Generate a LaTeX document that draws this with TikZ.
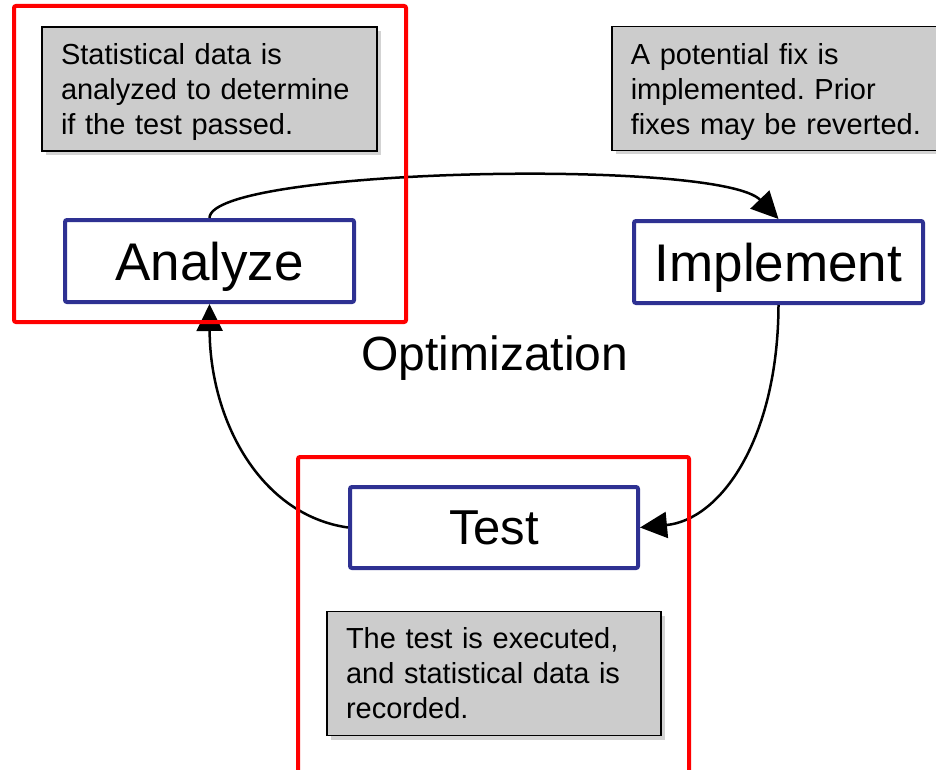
\documentclass[tikz,border=0pt]{standalone}
\usepackage{fontspec}
\setmainfont{Liberation Sans}
\usetikzlibrary{arrows.meta,shadows}
\definecolor{boxblue}{RGB}{46,49,146}
\definecolor{notegray}{RGB}{204,204,204}
\newcommand{\nodepth}[1]{\raisebox{0pt}[\height][0pt]{#1}}
\frenchspacing
\begin{document}
\begin{tikzpicture}[x=1pt,y=-1pt,
  stage/.style={draw=boxblue, line width=4pt, rounded corners=2pt, fill=white, minimum width=289pt, minimum height=82pt, inner sep=0pt, text depth=0pt},
  note/.style={draw=black, line width=1.5pt, fill=notegray, align=left, inner xsep=19pt, inner ysep=0pt, minimum height=124pt, font=\fontsize{29}{35}\selectfont, drop shadow={shadow xshift=4pt, shadow yshift=-4pt, opacity=.35}},
  frame/.style={draw=red, line width=4pt, rounded corners=2pt},
  flow/.style={line width=2.5pt, -{Triangle[length=27pt,width=26pt]}}]
\useasboundingbox (0,0) rectangle (936,770);
\node[note, text width=297pt] (nanalyze) at (209.5,89){Statistical data is\\analyzed to determine\\\nodepth{if the test passed.}};
\node[note, text width=305pt, anchor=west] (nimplement) at (611,88.5){A potential fix is\\implemented. Prior\\\nodepth{fixes may be reverted.}};
\node[note, text width=296pt] (ntest) at (494,673.5){The test is executed,\\and statistical data is\\recorded.};
\node[stage, font=\fontsize{53}{60}\selectfont] (analyze) at (209.5,261){Analyze};
\node[stage, font=\fontsize{53}{60}\selectfont] (implement) at (778.5,262){Implement};
\node[stage, minimum width=288pt, minimum height=81pt, font=\fontsize{49}{56}\selectfont] (test) at (494,527.5){Test};
\node[font=\fontsize{48}{56}\selectfont] (optim) at (495,358){Optimization};
\draw[flow] (analyze.north) .. controls (210,168) and (720,158) .. (implement.north);
\draw[flow] (implement.south) .. controls (778,440) and (720,520) .. (test.east);
\draw[flow] (test.west) .. controls (260,515) and (210,420) .. (analyze.south);
\draw[frame] (14,6) rectangle (406,322);
\draw[frame] (298,457) rectangle (689,785);
\end{tikzpicture}
\end{document}
